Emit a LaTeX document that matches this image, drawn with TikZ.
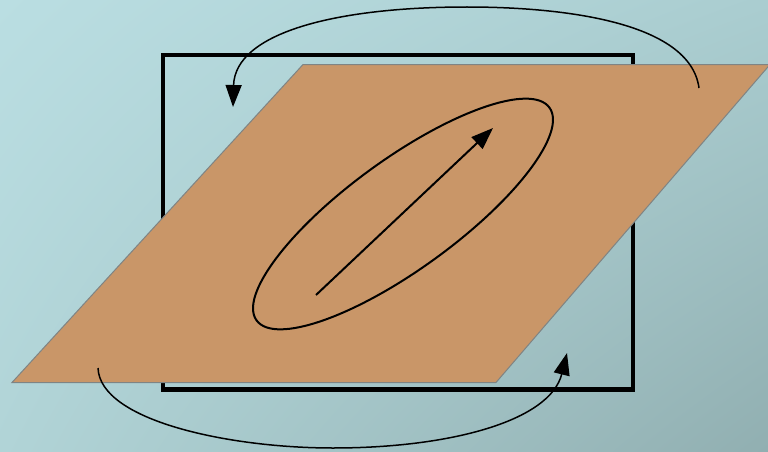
\documentclass[tikz,border=0pt]{standalone}
\usetikzlibrary{arrows.meta,shadings}
\definecolor{bgtl}{HTML}{BADEE2}
\definecolor{bgtr}{HTML}{AACDD0}
\definecolor{bgbl}{HTML}{B1D4D7}
\definecolor{bgbr}{HTML}{91AFB1}
\definecolor{plan}{HTML}{C99668}
\definecolor{planedge}{HTML}{7F8484}

\begin{document}
\begin{tikzpicture}[x=1pt,y=1pt,
  curve/.style={line width=1.5pt},
  contour/.style={line width=2pt},
  >={Triangle[length=22pt,width=16pt]}]
  \useasboundingbox (0,0) rectangle (768,451);
  % fond
  \shade[upper left=bgtl,upper right=bgtr,lower left=bgbl,lower right=bgbr]
    (0,0) rectangle (768,451);
  % cadre
  \draw[line width=4.5pt] (163,396) rectangle (633,61.5);
  % plan
  \filldraw[fill=plan,draw=planedge,line width=1pt]
    (303,386.5) -- (770,386.5) -- (496,68.5) -- (12,68.5) -- cycle;
  % ellipse et vecteur
  \draw[contour,rotate around={36:(403,237)}] (403,237) ellipse [x radius=181pt,y radius=55pt];
  \coordinate (vA) at (316,156);
  \coordinate (vB) at (493,323);
  \draw[contour,->] (vA) -- (vB);
  % rotations
  \coordinate (hA) at (699,363);
  \coordinate (hB) at (233,344);
  \draw[curve,->] (hA) .. controls (690,430) and (560,444) .. (467,444)
    .. controls (335,444) and (235,418) .. (hB);
  \coordinate (bA) at (98,83);
  \coordinate (bB) at (567,98);
  \draw[curve,->] (bA) .. controls (100,30) and (230,3) .. (333,3)
    .. controls (450,3) and (550,30) .. (bB);
\end{tikzpicture}
\end{document}
